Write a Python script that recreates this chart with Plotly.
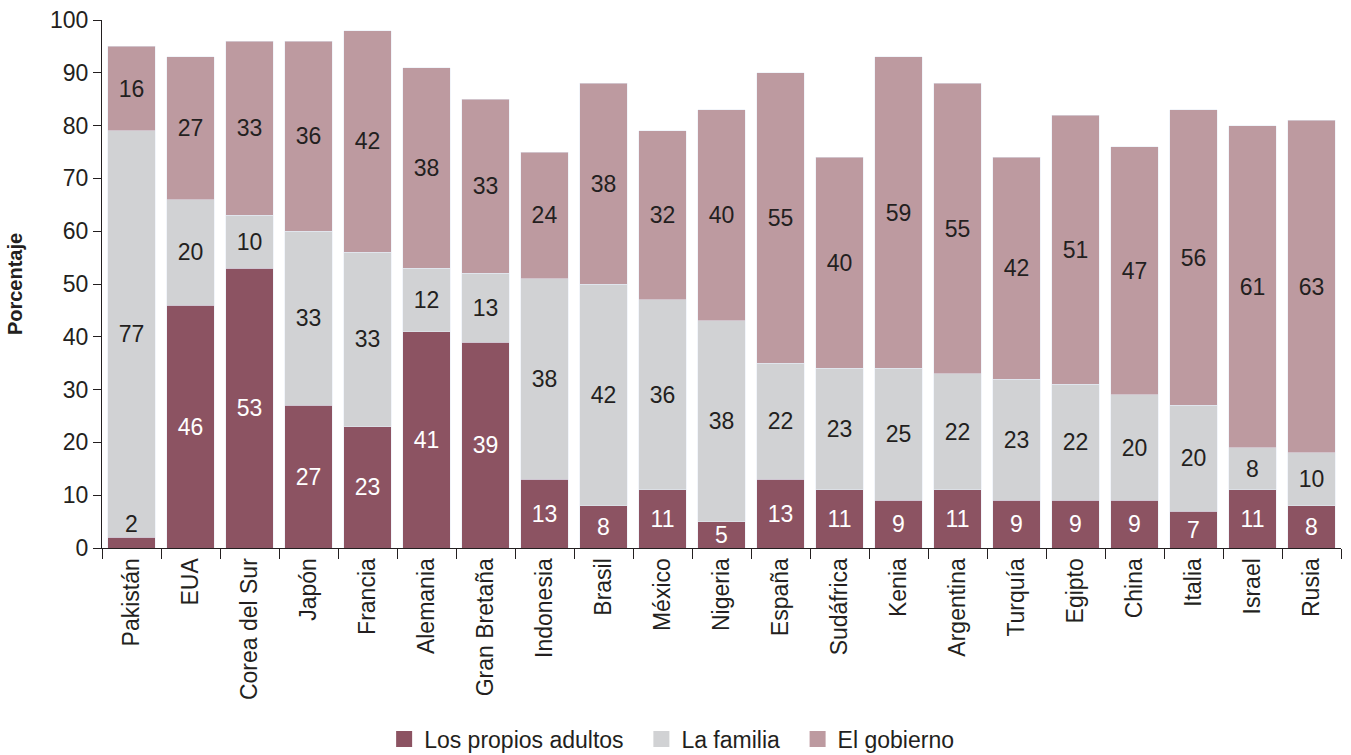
import plotly.graph_objects as go

paises = ["Pakistán", "EUA", "Corea del Sur", "Japón", "Francia", "Alemania",
          "Gran Bretaña", "Indonesia", "Brasil", "México", "Nigeria", "España",
          "Sudáfrica", "Kenia", "Argentina", "Turquía", "Egipto", "China",
          "Italia", "Israel", "Rusia"]
adultos = [2, 46, 53, 27, 23, 41, 39, 13, 8, 11, 5, 13, 11, 9, 11, 9, 9, 9, 7, 11, 8]
familia = [77, 20, 10, 33, 33, 12, 13, 38, 42, 36, 38, 22, 23, 25, 22, 23, 22, 20, 20, 8, 10]
gobierno = [16, 27, 33, 36, 42, 38, 33, 24, 38, 32, 40, 55, 40, 59, 55, 42, 51, 47, 56, 61, 63]
series_names = ["Los propios adultos", "La familia", "El gobierno"]
y_ticks = [0, 10, 20, 30, 40, 50, 60, 70, 80, 90, 100]

C_AD = "#8C5362"
C_FA = "#D1D2D4"
C_GO = "#BD9AA0"
TXT = "#231F20"
FONT = "Liberation Sans, Arial, sans-serif"
FS = 23

# small values that do not fit inside the bar are labelled above it
ad_text = [("" if v < 4 else str(v)) for v in adultos]

common = dict(textposition="inside", insidetextanchor="middle", textangle=0,
              constraintext="none", showlegend=False)

fig = go.Figure()
fig.add_trace(go.Bar(x=paises, y=adultos, name=series_names[0], marker_color=C_AD,
                     text=ad_text, textfont=dict(color="white", size=FS, family=FONT), **common))
fig.add_trace(go.Bar(x=paises, y=familia, name=series_names[1], marker_color=C_FA,
                     text=[str(v) for v in familia],
                     textfont=dict(color=TXT, size=FS, family=FONT), **common))
fig.add_trace(go.Bar(x=paises, y=gobierno, name=series_names[2], marker_color=C_GO,
                     text=[str(v) for v in gobierno],
                     textfont=dict(color=TXT, size=FS, family=FONT), **common))

# legend entries with larger square swatches
for nm, col in zip(series_names, [C_AD, C_FA, C_GO]):
    fig.add_trace(go.Scatter(x=[None], y=[None], mode="markers", name=nm + "\u00a0\u00a0",
                             marker=dict(symbol="square", size=16, color=col),
                             showlegend=True, hoverinfo="skip"))

for p, v in zip(paises, adultos):
    if v < 4:
        fig.add_annotation(x=p, y=v, text=str(v), showarrow=False, yanchor="bottom", yshift=-2,
                           font=dict(color=TXT, size=FS, family=FONT))

fig.update_layout(
    barmode="stack", bargap=0.2,
    width=1351, height=755,
    margin=dict(l=102, r=10, t=20, b=207, autoexpand=False),
    plot_bgcolor="white", paper_bgcolor="white",
    font=dict(family=FONT, color=TXT, size=FS),
    uniformtext=dict(mode=False),
    legend=dict(orientation="h", x=0.465, xanchor="center", y=-0.362, yanchor="middle",
                font=dict(size=FS, family=FONT, color=TXT), traceorder="normal",
                itemsizing="trace", itemwidth=30),
    xaxis=dict(showline=True, linecolor="#231F20", linewidth=1, ticks="outside",
               tickson="boundaries", ticklen=10, tickcolor="#231F20", tickangle=-90,
               tickfont=dict(size=FS, family=FONT, color=TXT), showgrid=False,
               automargin=False, ticklabeloverflow="allow"),
    yaxis=dict(range=[0, 100], tickvals=y_ticks, showline=True, linecolor="#231F20",
               linewidth=1, ticks="outside", ticklen=8, tickcolor="#231F20",
               tickfont=dict(size=FS, family=FONT, color=TXT), showgrid=False,
               automargin=False, ticklabeloverflow="allow", ticksuffix=" ",
               title=dict(text="<b>Porcentaje</b>", font=dict(size=20, family=FONT, color=TXT),
                          standoff=22)),
)

# remove the default 8px page margin so the figure fills the window exactly
fig.write_html("out.html", config={"displayModeBar": False},
               post_script="document.body.style.margin='0';document.body.style.overflow='hidden';")
